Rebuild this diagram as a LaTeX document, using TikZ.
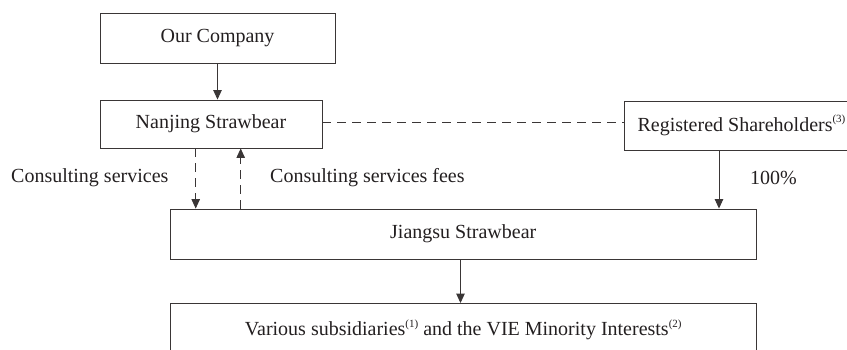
\documentclass[tikz,border=0pt]{standalone}
\usepackage{fontspec}
\setmainfont{Liberation Serif}
\usetikzlibrary{arrows.meta}
\definecolor{linec}{HTML}{3A3636}
\definecolor{textc}{HTML}{231F20}
\newcommand{\supnote}[1]{\raisebox{0.42em}{\fontsize{11}{11}\selectfont(#1)}}
\begin{document}
\begin{tikzpicture}[x=1pt,y=-1pt,
  every node/.style={text=textc, font=\fontsize{20}{22}\selectfont},
  box/.style={draw=linec, line width=0.9pt, inner sep=0pt},
  arr/.style={draw=linec, line width=0.9pt, -{Triangle[length=9.5pt,width=8.5pt]}},
  dline/.style={dash pattern=on 9pt off 6pt},
  lbl/.style={inner sep=0pt, anchor=west}]
\useasboundingbox (0,0) rectangle (847,349);
\clip (0,0) rectangle (847,349);
\node[box, minimum width=235pt, minimum height=50pt] (oc) at (217.5,38) {Our Company};
\node[box, minimum width=222pt, minimum height=48pt] (nj) at (211,124) {Nanjing Strawbear};
\node[box, minimum width=235pt, minimum height=49pt] (rs) at (741.5,125.5) {Registered Shareholders\supnote{3}};
\node[box, minimum width=585.5pt, minimum height=50pt] (js) at (463.25,234) {Jiangsu Strawbear};
\node[box, minimum width=585.5pt, minimum height=53pt] (vs) at (463.25,330) {Various subsidiaries\supnote{1} and the VIE Minority Interests\supnote{2}};
\node[lbl] (l1) at (11,178) {Consulting services};
\node[lbl] (l2) at (270,178) {Consulting services fees};
\node[lbl] (l3) at (750,178) {100\%};
\coordinate (nje) at ([yshift=2pt]nj.east);
\draw[arr] (oc.south) -- (oc.south |- nj.north);
\draw[arr, dline] ([xshift=-15.3pt]nj.south) -- ([xshift=-15.3pt]nj.south |- js.north);
\draw[arr, dline] ([xshift=29.7pt]nj.south |- js.north) -- ([xshift=29.7pt]nj.south);
\draw[draw=linec, line width=0.9pt, dline] (nje) -- (rs.west |- nje);
\draw[arr] ([xshift=-22.5pt]rs.south) -- ([xshift=-22.5pt]rs.south |- js.north);
\draw[arr] ([xshift=-2.75pt]js.south) -- ([xshift=-2.75pt]js.south |- vs.north);
\end{tikzpicture}
\end{document}
